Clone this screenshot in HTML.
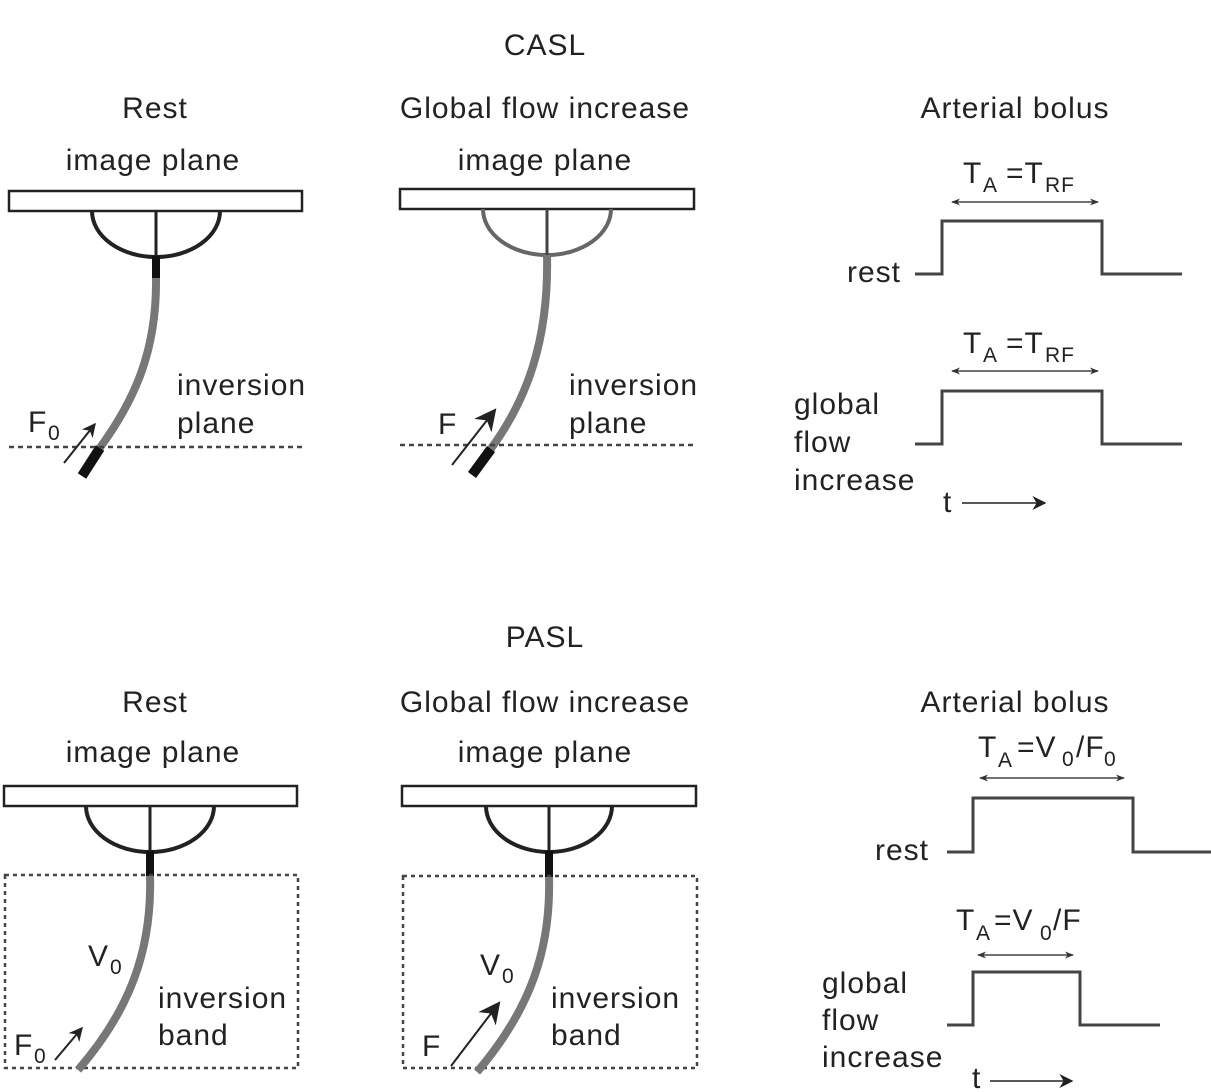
<!DOCTYPE html>
<html><head><meta charset="utf-8"><style>
html,body{margin:0;padding:0;background:#fff;}
svg{display:block;}
text{font-family:"Liberation Sans",sans-serif;fill:#222;font-size:30px;letter-spacing:1px;}
.s{font-size:21px;}
</style></head><body>
<svg width="1211" height="1092" viewBox="0 0 1211 1092" xmlns="http://www.w3.org/2000/svg">
<defs>
<marker id="ah" viewBox="0 0 10 10" refX="9" refY="5" markerWidth="9" markerHeight="9" orient="auto-start-reverse" markerUnits="userSpaceOnUse"><path d="M0,1 L10,5 L0,9 L3,5z" fill="#333"/></marker>
<marker id="ah2" viewBox="0 0 10 10" refX="9" refY="5" markerWidth="14" markerHeight="14" orient="auto" markerUnits="userSpaceOnUse"><path d="M0,0 L10,5 L0,10 L3,5z" fill="#222"/></marker>
<marker id="ah3" viewBox="0 0 10 10" refX="9" refY="5" markerWidth="22" markerHeight="22" orient="auto" markerUnits="userSpaceOnUse"><path d="M0,0 L10,5 L0,10 L3,5z" fill="#222"/></marker>
</defs>

<text x="545" y="55" text-anchor="middle" letter-spacing="3">CASL</text>
<text x="155" y="118" text-anchor="middle" letter-spacing="2">Rest</text>
<text x="153" y="170" text-anchor="middle" letter-spacing="1.5">image plane</text>
<text x="545" y="118" text-anchor="middle" letter-spacing="1.5">Global flow increase</text>
<text x="545" y="170" text-anchor="middle" letter-spacing="1.5">image plane</text>
<text x="1015" y="118" text-anchor="middle" letter-spacing="1.3">Arterial bolus</text>

<rect x="9" y="191" width="293" height="20" fill="#fff" stroke="#222" stroke-width="2.5"/>
<path d="M92,211 A64,46 0 0 0 220,211" fill="none" stroke="#222" stroke-width="4"/>
<line x1="156" y1="211" x2="156" y2="257" stroke="#222" stroke-width="3"/>
<line x1="156" y1="256" x2="156" y2="279" stroke="#111" stroke-width="8"/>
<path d="M156,278 C157,350 135,400 99,449" fill="none" stroke="#777" stroke-width="8"/>
<line x1="100" y1="448" x2="82" y2="476" stroke="#111" stroke-width="10"/>
<line x1="9" y1="447" x2="302" y2="447" stroke="#444" stroke-width="2.5" stroke-dasharray="5,4"/>
<line x1="64" y1="463" x2="95" y2="424" stroke="#222" stroke-width="2" marker-end="url(#ah2)"/>
<text x="28" y="432">F</text><text x="48" y="440" class="s">0</text>
<text x="177" y="395" letter-spacing="2">inversion</text>
<text x="177" y="433" letter-spacing="2">plane</text>

<rect x="400" y="189" width="294" height="20" fill="#fff" stroke="#222" stroke-width="2.5"/>
<path d="M483,209 A64,46 0 0 0 611,209" fill="none" stroke="#666" stroke-width="4"/>
<line x1="547" y1="209" x2="547" y2="255" stroke="#444" stroke-width="3"/>
<path d="M547,255 C549,340 527,400 490,450" fill="none" stroke="#777" stroke-width="8"/>
<line x1="491" y1="449" x2="472" y2="475" stroke="#111" stroke-width="10"/>
<line x1="400" y1="445" x2="694" y2="445" stroke="#444" stroke-width="2.5" stroke-dasharray="5,4"/>
<line x1="452" y1="465" x2="495" y2="410" stroke="#222" stroke-width="2" marker-end="url(#ah3)"/>
<text x="438" y="434">F</text>
<text x="569" y="395" letter-spacing="2">inversion</text>
<text x="569" y="433" letter-spacing="2">plane</text>

<path d="M915,274 H942 V221 H1102 V274 H1182" fill="none" stroke="#444" stroke-width="3"/>
<line x1="952" y1="202" x2="1098" y2="202" stroke="#444" stroke-width="1.5" marker-start="url(#ah)" marker-end="url(#ah)"/>
<text x="963" y="183">T</text><text x="983" y="192" class="s">A</text><text x="1006" y="183">=T</text><text x="1045" y="192" class="s" letter-spacing="3">RF</text>
<text x="847" y="282" letter-spacing="1.5">rest</text>
<path d="M915,444 H942 V391 H1102 V444 H1182" fill="none" stroke="#444" stroke-width="3"/>
<line x1="952" y1="371" x2="1098" y2="371" stroke="#444" stroke-width="1.5" marker-start="url(#ah)" marker-end="url(#ah)"/>
<text x="963" y="353">T</text><text x="983" y="362" class="s">A</text><text x="1006" y="353">=T</text><text x="1045" y="362" class="s" letter-spacing="3">RF</text>
<text x="794" y="414" letter-spacing="1.5">global</text>
<text x="794" y="452" letter-spacing="1.5">flow</text>
<text x="794" y="490" letter-spacing="1.5">increase</text>
<text x="943" y="512">t</text>
<line x1="962" y1="503" x2="1045" y2="503" stroke="#222" stroke-width="1.5" marker-end="url(#ah2)"/>

<text x="545" y="647" text-anchor="middle" letter-spacing="3">PASL</text>
<text x="155" y="712" text-anchor="middle" letter-spacing="2">Rest</text>
<text x="153" y="762" text-anchor="middle" letter-spacing="1.5">image plane</text>
<text x="545" y="712" text-anchor="middle" letter-spacing="1.5">Global flow increase</text>
<text x="545" y="762" text-anchor="middle" letter-spacing="1.5">image plane</text>
<text x="1015" y="712" text-anchor="middle" letter-spacing="1.3">Arterial bolus</text>

<rect x="4" y="786" width="293" height="20" fill="#fff" stroke="#222" stroke-width="2.5"/>
<path d="M86,806 A64,46 0 0 0 214,806" fill="none" stroke="#222" stroke-width="4"/>
<line x1="150" y1="806" x2="150" y2="852" stroke="#222" stroke-width="3"/>
<line x1="150" y1="851" x2="150" y2="876" stroke="#111" stroke-width="8"/>
<rect x="5" y="875" width="293" height="193" fill="none" stroke="#444" stroke-width="2.5" stroke-dasharray="4,4"/>
<path d="M150,876 C152,950 130,1010 78,1070" fill="none" stroke="#777" stroke-width="8"/>
<line x1="55" y1="1060" x2="82" y2="1028" stroke="#222" stroke-width="2" marker-end="url(#ah2)"/>
<text x="88" y="966">V</text><text x="110" y="974" class="s">0</text>
<text x="14" y="1055">F</text><text x="34" y="1063" class="s">0</text>
<text x="158" y="1008" letter-spacing="2">inversion</text>
<text x="158" y="1045" letter-spacing="2">band</text>

<rect x="402" y="786" width="294" height="20" fill="#fff" stroke="#222" stroke-width="2.5"/>
<path d="M486,806 A63,46 0 0 0 612,806" fill="none" stroke="#222" stroke-width="4"/>
<line x1="549" y1="806" x2="549" y2="852" stroke="#222" stroke-width="3"/>
<line x1="549" y1="851" x2="549" y2="877" stroke="#111" stroke-width="8"/>
<rect x="403" y="876" width="294" height="192" fill="none" stroke="#444" stroke-width="2.5" stroke-dasharray="4,4"/>
<path d="M549,877 C551,950 530,1010 477,1072" fill="none" stroke="#777" stroke-width="8"/>
<line x1="451" y1="1066" x2="499" y2="1003" stroke="#222" stroke-width="2" marker-end="url(#ah3)"/>
<text x="480" y="975">V</text><text x="502" y="983" class="s">0</text>
<text x="422" y="1056">F</text>
<text x="551" y="1008" letter-spacing="2">inversion</text>
<text x="551" y="1045" letter-spacing="2">band</text>

<path d="M947,852 H973 V798 H1133 V852 H1211" fill="none" stroke="#444" stroke-width="3"/>
<line x1="980" y1="778" x2="1124" y2="778" stroke="#444" stroke-width="1.5" marker-start="url(#ah)" marker-end="url(#ah)"/>
<text x="978" y="757">T</text><text x="998" y="767" class="s">A</text><text x="1017" y="757" letter-spacing="0">=V</text><text x="1062" y="766" class="s">0</text><text x="1076" y="757" letter-spacing="0">/F</text><text x="1104" y="766" class="s">0</text>
<text x="875" y="860" letter-spacing="1.5">rest</text>
<path d="M947,1025 H973 V972 H1080 V1025 H1160" fill="none" stroke="#444" stroke-width="3"/>
<line x1="978" y1="955" x2="1073" y2="955" stroke="#444" stroke-width="1.5" marker-start="url(#ah)" marker-end="url(#ah)"/>
<text x="956" y="930">T</text><text x="976" y="940" class="s">A</text><text x="994" y="930" letter-spacing="0">=V</text><text x="1040" y="940" class="s">0</text><text x="1053" y="930" letter-spacing="0">/F</text>
<text x="822" y="993" letter-spacing="1.5">global</text>
<text x="822" y="1030" letter-spacing="1.5">flow</text>
<text x="822" y="1067" letter-spacing="1.5">increase</text>
<text x="972" y="1088">t</text>
<line x1="990" y1="1081" x2="1072" y2="1081" stroke="#222" stroke-width="1.5" marker-end="url(#ah2)"/>
</svg>
</body></html>
